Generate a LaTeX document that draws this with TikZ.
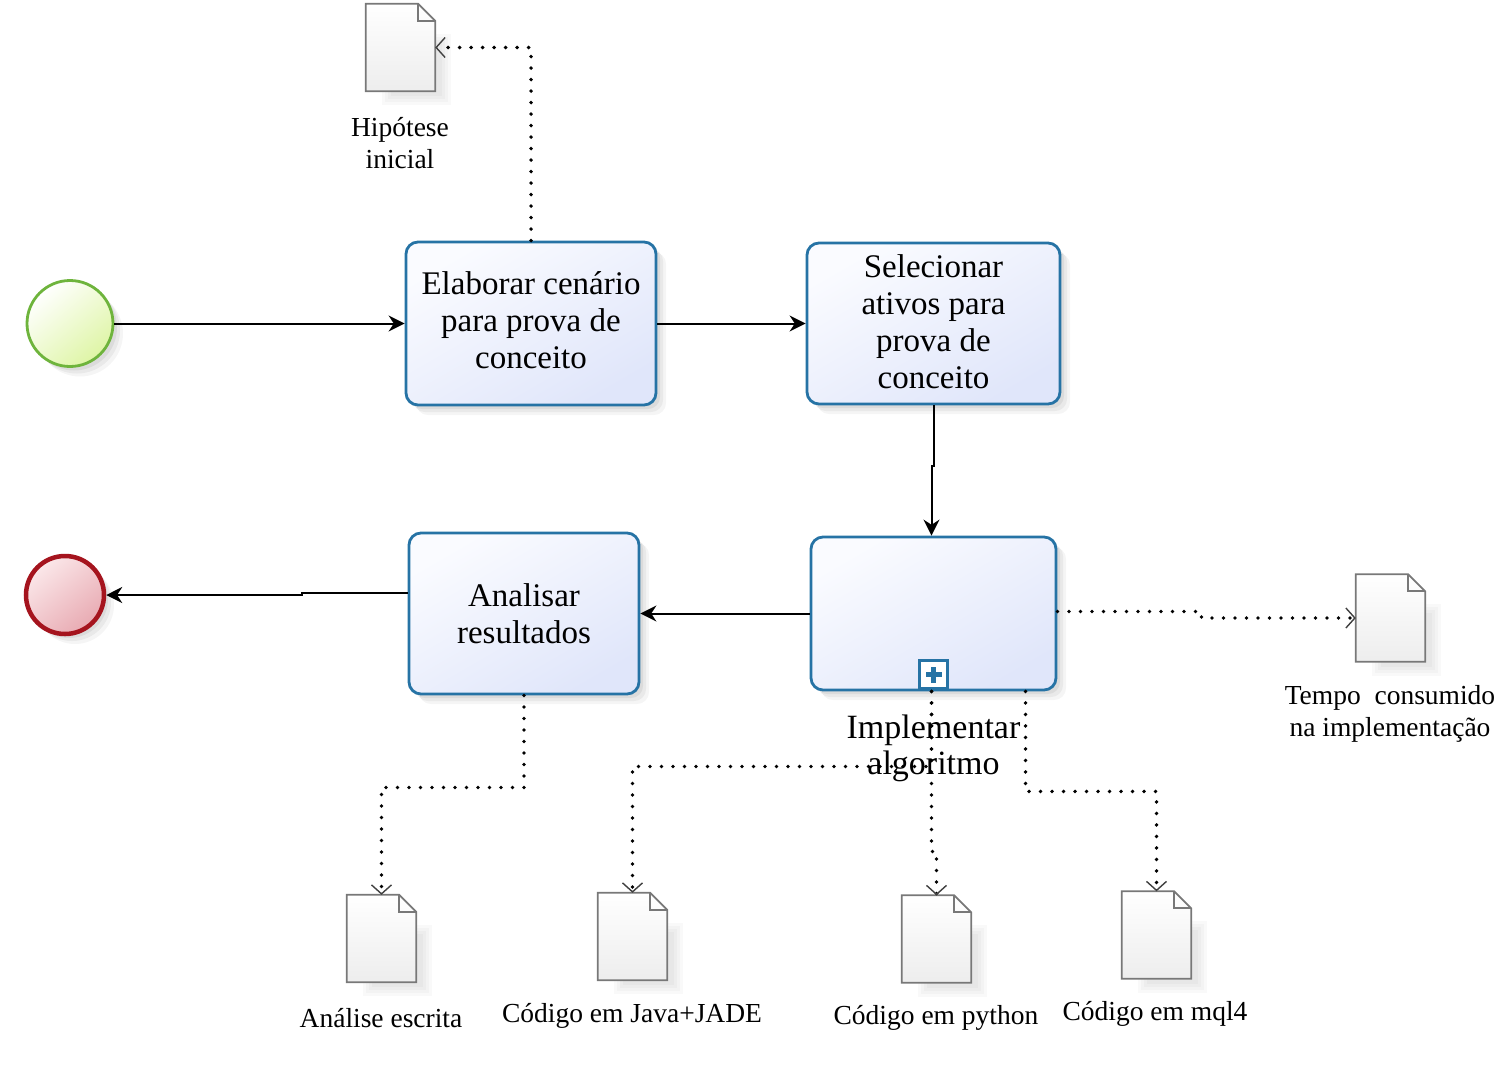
\documentclass[tikz,border=0pt]{standalone}
\usepackage{fontspec}
\setmainfont{Liberation Serif}
\usetikzlibrary{arrows.meta,shadows,calc}
\definecolor{boxblue}{RGB}{38,115,165}
\definecolor{boxfill}{RGB}{224,230,250}
\definecolor{boxtop}{RGB}{250,251,255}
\definecolor{startline}{RGB}{110,180,60}
\definecolor{startfill}{RGB}{222,245,165}
\definecolor{endline}{RGB}{165,20,30}
\definecolor{endfillA}{RGB}{251,232,234}
\definecolor{endfillB}{RGB}{232,170,178}
\definecolor{docgray}{RGB}{120,120,120}
\newcommand\drawdoc[1]{%
  \foreach \s in {0,3,6,9}{%
    \fill[black, opacity=0.025] ([xshift=16pt+\s pt,yshift=-30pt-\s pt]#1.north west) rectangle ([xshift=16pt-\s pt,yshift=-14pt+\s pt]#1.south east);}
  \draw[docline, top color=white, bottom color=black!7] (#1.south west) -- (#1.north west) -- ([xshift=-17pt]#1.north east) -- ([yshift=-17pt]#1.north east) -- (#1.south east) -- cycle;
  \draw[docline] ([xshift=-17pt]#1.north east) |- ([yshift=-17pt]#1.north east);
}
\begin{document}
\begin{tikzpicture}[x=1pt,y=-1pt,
  softshadow/.style={
    drop shadow={shadow xshift=4pt,shadow yshift=-4pt,fill=black,opacity=.06},
    drop shadow={shadow xshift=7pt,shadow yshift=-7pt,fill=black,opacity=.05},
    drop shadow={shadow xshift=10pt,shadow yshift=-10pt,fill=black,opacity=.04}},
  taskbox/.style={draw=boxblue, line width=2.8pt, rounded corners=12pt,
    top color=boxtop, bottom color=boxfill, shading angle=30, softshadow,
    align=center, inner sep=0pt, font=\fontsize{33}{37}\selectfont},
  docnode/.style={minimum width=69pt, minimum height=87pt, inner sep=0pt},
  docline/.style={draw=docgray, line width=1.8pt, line join=miter},
  doclabel/.style={align=center, inner sep=0pt, font=\fontsize{27.5}{32}\selectfont},
  flow/.style={line width=2pt, -{Stealth[length=16pt,width=16pt]}},
  assoc/.style={line width=3.8pt, dash pattern=on 0pt off 11.5pt, line cap=round,
    -{Straight Barb[length=9pt,width=20pt,line width=1.4pt,color=black!75]}},
  startev/.style={circle, minimum size=86pt, inner sep=0pt, draw=startline, line width=2.8pt,
    top color=white, bottom color=startfill, shading angle=40, softshadow},
  endev/.style={circle, minimum size=78pt, inner sep=0pt, draw=endline, line width=4.5pt,
    top color=endfillA, bottom color=endfillB, shading angle=40, softshadow},
  plusbox/.style={draw=boxblue, line width=2.5pt, fill=white, minimum size=28pt, inner sep=0pt}
]
\useasboundingbox (0,0) rectangle (1506,1066);

% events
\node[startev] (start) at (70,323.5) {};
\node[endev] (end) at (65,595) {};

% tasks
\node[taskbox, minimum width=250pt, minimum height=163pt] (box1) at (531,323.5)
  {Elaborar cenário\\para prova de\\conceito\vspace{6pt}};
\node[taskbox, minimum width=253pt, minimum height=161pt] (box2) at (933.5,323.5)
  {Selecionar\\ativos para\\prova de\\conceito\vspace{3pt}};
\node[taskbox, minimum width=245pt, minimum height=153pt] (box3) at (933.5,613.5) {};
\node[taskbox, minimum width=230pt, minimum height=161pt] (box4) at (524,613.5)
  {Analisar\\resultados};

% subprocess marker
\node[plusbox, anchor=south] (sub) at ([yshift=1.5pt]box3.south) {};
\fill[boxblue] ([xshift=-8pt,yshift=-2.5pt]sub.center) rectangle ([xshift=8pt,yshift=2.5pt]sub.center);
\fill[boxblue] ([xshift=-2.5pt,yshift=-8pt]sub.center) rectangle ([xshift=2.5pt,yshift=8pt]sub.center);

% documents
\node[docnode] (hyp) at (400.5,47.5) {};
\node[docnode] (tempo) at (1390.5,618) {};
\node[docnode] (ana) at (381.5,938.5) {};
\node[docnode] (java) at (632.5,936.5) {};
\node[docnode] (py) at (936.5,939) {};
\node[docnode] (mql) at (1156.5,935) {};
\drawdoc{hyp}
\drawdoc{tempo}
\drawdoc{ana}
\drawdoc{java}
\drawdoc{py}
\drawdoc{mql}

% sequence flows
\draw[flow] (start) -- (box1);
\draw[flow] (box1) -- (box2);
\draw[flow] (box2.south) -- ++(0,61) -| ($(box3.north)+(-2,0)$);
\draw[flow] (box3.west) -- (box4.east);
\draw[flow] ($(box4.west)+(0,-20.5)$) -- ++(-106,0) |- (end.east);

% associations
\draw[assoc] (box1.north) |- (hyp.east);
\draw[assoc] ($(box3.east)+(0,-2)$) -- ++(144,0) |- (tempo.west);
\draw[assoc] (box4.south) -- ++(0,92) -| (ana.north);
\draw[assoc] ($(box3.south)+(-2,0)$) -- ++(0,75) -| (java.north);
\draw[assoc] ($(box3.south)+(-2,0)$) -- ++(0,160) -| (py.north);
\draw[assoc] ($(box3.south)+(92,0)$) -- ++(0,100) -| (mql.north);

% labels
\node[align=center, inner sep=0pt, font=\fontsize{34}{36}\selectfont] (impl) at (933.5,748) {Implementar\\algoritmo};
\node[doclabel] (hypl) at (400,143) {Hipótese\\inicial};
\node[doclabel] (tempol) at (1390,714) {Tempo\ \ consumido\\na implementação};
\node[doclabel] (anal) at (381,1018) {Análise escrita};
\node[doclabel] (javal) at (632,1016) {Código em Java+JADE};
\node[doclabel] (pyl) at (936,1018) {Código em python};
\node[doclabel] (mqll) at (1155,1014) {Código em mql4};
\end{tikzpicture}
\end{document}
